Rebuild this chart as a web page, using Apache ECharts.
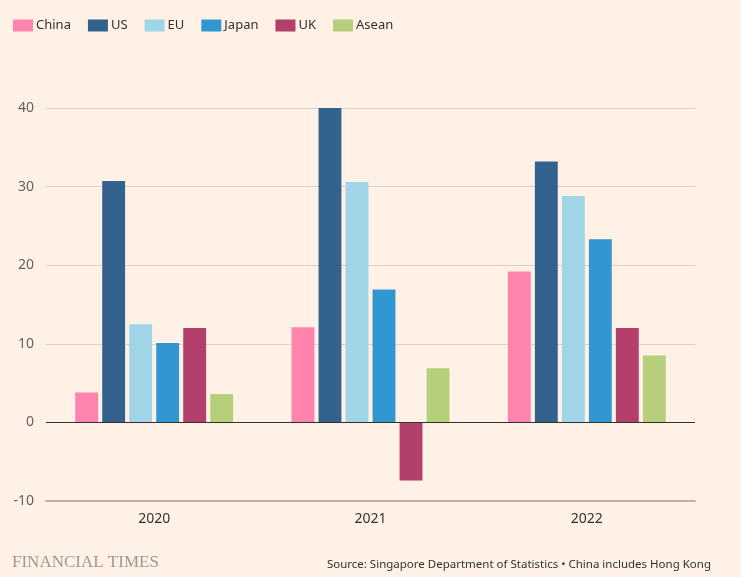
<!DOCTYPE html>
<html><head><meta charset="utf-8">
<script src="https://cdn.jsdelivr.net/npm/echarts@6/dist/echarts.min.js"></script>
<style>html,body{margin:0;padding:0;background:#fff1e5;}#c{width:741px;height:577px;}</style>
</head><body><div id="c"></div>
<script>
const categories = ['2020', '2021', '2022'];
const seriesNames = ['China', 'US', 'EU', 'Japan', 'UK', 'Asean'];
const china = [3.8, 12.1, 19.2];
const us = [30.7, 40.1, 33.2];
const eu = [12.5, 30.6, 28.8];
const japan = [10.1, 16.9, 23.3];
const uk = [12.0, -7.4, 12.0];
const asean = [3.6, 6.9, 8.5];
const yTicks = [-10, 0, 10, 20, 30, 40];
const colors = ['#ff84ad', '#33628f', '#9fd5e6', '#3097d0', '#b3406a', '#b6cf7a'];
const values = [china, us, eu, japan, uk, asean];

const chart = echarts.init(document.getElementById('c'));
const font = 'Noto Sans';
chart.setOption({
  backgroundColor: '#fff1e5',
  animation: false,
  legend: {
    left: 8, top: 14, itemWidth: 20, itemHeight: 12, itemGap: 17,
    icon: 'rect',
    textStyle: { fontFamily: font, fontSize: 13, color: '#33302e', padding: [0, 0, 0, -2] },
    data: seriesNames
  },
  grid: { left: 46, right: 46, top: 108, bottom: 76, containLabel: false },
  xAxis: {
    type: 'category', data: categories,
    axisLine: { onZero: false, lineStyle: { color: '#bfb3a7', width: 2 } },
    axisTick: { alignWithLabel: true, length: 6, lineStyle: { color: '#bfb3a7' } },
    axisLabel: { fontFamily: font, fontSize: 14, color: '#33302e', margin: 11 }
  },
  yAxis: {
    type: 'value', min: yTicks[0], max: yTicks[yTicks.length - 1], interval: 10,
    axisLine: { show: false }, axisTick: { show: false },
    axisLabel: { fontFamily: font, fontSize: 14, color: '#66605c', margin: 12 },
    splitLine: { lineStyle: { color: '#dcd0c4', width: 1 } }
  },
  graphic: [
    { type: 'text', left: 12, top: 554, style: { text: 'FINANCIAL TIMES', font: '17px "Liberation Serif", serif', fill: '#9e9893' } },
    { type: 'text', right: 30, top: 559, style: { text: 'Source: Singapore Department of Statistics \u2022 China includes Hong Kong', font: '11.5px "Noto Sans", sans-serif', fill: '#33302e' } }
  ],
  series: seriesNames.map((n, i) => ({
    name: n, type: 'bar', data: values[i],
    barCategoryGap: '27%', barGap: '18%',
    itemStyle: { color: colors[i] },
    markLine: i === 0 ? {
      silent: true, symbol: 'none', label: { show: false },
      lineStyle: { color: '#33302e', width: 1.2, type: 'solid' },
      data: [{ yAxis: 0 }], z: 10
    } : undefined
  }))
});
</script></body></html>
